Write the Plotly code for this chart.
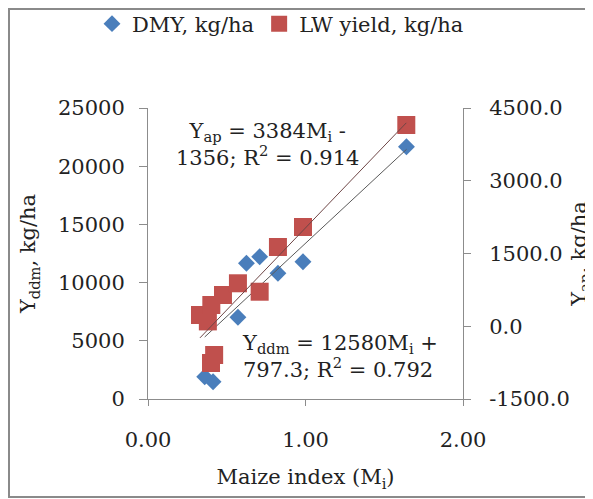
import plotly.graph_objects as go

# ---- data ----
dmy_mi = [0.36, 0.413, 0.571, 0.625, 0.709, 0.825, 0.984, 1.641]
dmy_kg = [1916, 1486, 7019, 11658, 12225, 10800, 11795, 21675]

lw_mi = [0.33, 0.38, 0.402, 0.476, 0.571, 0.709, 0.825, 0.984, 0.40, 0.42, 1.64]
lw_kg = [232, 100, 438, 644, 886, 712, 1634, 2046, -758, -593, 4149]

# trendline equations shown on the chart
ddm_slope, ddm_icpt = 12580, 797.3
ap_slope, ap_icpt = 3384, -1356

x_ticks = [0, 1, 2]
x_labels = ["0.00", "1.00", "2.00"]
y_left_ticks = [0, 5000, 10000, 15000, 20000, 25000]
y_left_labels = ["0", "5000", "10000", "15000", "20000", "25000"]
y_right_ticks = [-1500, 0, 1500, 3000, 4500]
y_right_labels = ["-1500.0", "0.0", "1500.0", "3000.0", "4500.0"]

FONT = "DejaVu Serif"
FS = 21
BLUE = "#4A7EBB"
RED = "#C0504D"
AXC = "#8C8C8C"
TXT = "#222222"

fig = go.Figure()
fig.add_trace(go.Scatter(x=dmy_mi, y=dmy_kg, mode="markers", name="DMY, kg/ha",
                         marker=dict(symbol="diamond", size=13, color=BLUE)))
fig.add_trace(go.Scatter(x=lw_mi, y=lw_kg, mode="markers", name="LW yield, kg/ha",
                         yaxis="y2", marker=dict(symbol="square", size=18, color=RED)))

xb = [min(dmy_mi), max(dmy_mi)]
fig.add_trace(go.Scatter(x=xb, y=[ddm_slope * v + ddm_icpt for v in xb], mode="lines",
                         line=dict(color="#5a5a5a", width=1), showlegend=False, hoverinfo="skip"))
xr = [min(lw_mi), max(lw_mi)]
fig.add_trace(go.Scatter(x=xr, y=[ap_slope * v + ap_icpt for v in xr], mode="lines", yaxis="y2",
                         line=dict(color="#6e4646", width=1), showlegend=False, hoverinfo="skip"))

# page is 593x499 but the browser body has an 8px margin
OFF = 8
W, H = 593 - OFF, 499 - OFF
PL, PR, PT, PB = 148, 463, 108, 399   # plot area in page pixels
L, T = PL - OFF, PT - OFF
R = W - (PR - OFF)
B = H - (PB - OFF)
pw, ph = W - L - R, H - T - B


def px(x):  # page pixel -> paper
    return (x - OFF - L) / pw


def py(y):
    return (H - B - (y - OFF)) / ph


fig.update_layout(
    width=W, height=H,
    margin=dict(l=L, r=R, t=T, b=B, autoexpand=False),
    paper_bgcolor="white", plot_bgcolor="white",
    font=dict(family=FONT, size=FS, color=TXT),
    showlegend=True,
    legend=dict(orientation="h", x=px(92), xanchor="left", y=py(24), yanchor="middle",
                font=dict(family=FONT, size=FS, color=TXT), bgcolor="rgba(0,0,0,0)",
                itemwidth=30, tracegroupgap=0),
    xaxis=dict(range=[0, 2], tickvals=x_ticks, ticktext=x_labels, showgrid=False, zeroline=False,
               showline=True, linecolor=AXC, linewidth=1, ticks="outside", ticklen=6,
               tickcolor=AXC, ticklabelstandoff=16, automargin=False,
               title=dict(text="Maize index (M<sub>i</sub>)", standoff=18,
                          font=dict(family=FONT, size=FS))),
    yaxis=dict(range=[0, 25000], tickvals=y_left_ticks, ticktext=y_left_labels, showgrid=False,
               zeroline=False, showline=True, linecolor=AXC, linewidth=1, ticks="outside",
               ticklen=8, tickcolor=AXC, ticklabelstandoff=10, automargin=False,
               title=dict(text="Y<sub>ddm</sub>, kg/ha", standoff=16,
                          font=dict(family=FONT, size=FS))),
    yaxis2=dict(range=[-1500, 4500], tickvals=y_right_ticks, ticktext=y_right_labels,
                overlaying="y", side="right", showgrid=False, zeroline=False, showline=True,
                linecolor=AXC, linewidth=1, ticks="outside", ticklen=7, tickcolor=AXC,
                ticklabelstandoff=14, automargin=False,
                title=dict(text="Y<sub>ap</sub>, kg/ha", standoff=6,
                           font=dict(family=FONT, size=FS))),
)

fig.add_annotation(xref="paper", yref="paper", x=px(267), y=py(144), xanchor="center",
                   yanchor="middle", align="center", showarrow=False,
                   text="Y<sub>ap</sub> = 3384M<sub>i</sub> -<br>1356; R<sup>2</sup> = 0.914",
                   font=dict(family=FONT, size=FS, color=TXT))
fig.add_annotation(xref="paper", yref="paper", x=px(240), y=py(356), xanchor="left",
                   yanchor="middle", align="left", showarrow=False,
                   text="Y<sub>ddm</sub> = 12580M<sub>i</sub> +<br>797.3; R<sup>2</sup> = 0.792",
                   font=dict(family=FONT, size=FS, color=TXT))

# chart frame (right side cropped off in the reference)
fig.add_shape(type="rect", xref="paper", yref="paper", x0=px(9), x1=px(620), y0=py(497),
              y1=py(9), line=dict(color="#8a8a8a", width=2), fillcolor="rgba(0,0,0,0)",
              layer="below")

fig.write_html("out.html")
